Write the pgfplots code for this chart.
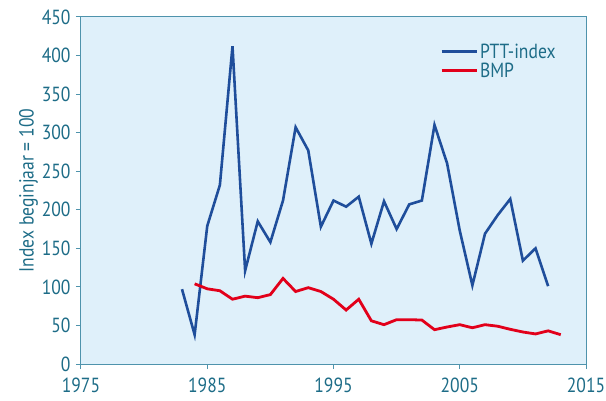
\documentclass[border=0pt]{standalone}
\usepackage{fontspec}
\setmainfont{PT Sans}[FakeStretch=0.86]
\usepackage{pgfplots}
\pgfplotsset{compat=1.18}
\definecolor{bgblue}{HTML}{DFF0FA}
\definecolor{axcol}{HTML}{4E93AC}
\definecolor{txtcol}{HTML}{1D6C87}
\definecolor{pttblue}{HTML}{1F4E9B}
\definecolor{bmpred}{HTML}{E2001A}
\begin{document}
\begin{tikzpicture}[x=1bp,y=1bp]
\useasboundingbox (-81,-36) rectangle (525,364);
\begin{axis}[
  scale only axis, width=505bp, height=347bp,
  at={(0,0)}, anchor=south west,
  xmin=1975, xmax=2015, ymin=0, ymax=450,
  xtick={1975,1985,...,2015}, ytick={0,50,...,450},
  tick pos=left, tick align=outside, major tick length=5bp,
  tick style={axcol, line width=1bp},
  axis line style={axcol, line width=1bp},
  axis background/.style={fill=bgblue},
  /pgf/number format/assume math mode=true,
  /pgf/number format/1000 sep={},
  tick label style={text=txtcol, font=\fontsize{20.5}{24}\selectfont},
  xticklabel style={yshift=-5bp},
  yticklabel style={xshift=-2bp},
  ylabel={Index beginjaar = 100},
  ylabel style={text=txtcol, font=\fontsize{20.5}{24}\selectfont, yshift=-3bp},
  legend style={draw=none, fill=none, at={(0.705,0.935)}, anchor=north west,
    font=\fontsize{20.5}{24}\selectfont, text=txtcol, row sep=-1bp},
  legend cell align=left,
  legend image code/.code={\draw[#1] (0bp,0bp) -- (35bp,0bp);},
]
\addplot[pttblue, line width=2.6bp] coordinates {
(1983,97) (1984,38) (1985,179) (1986,232) (1987,412) (1988,121) (1989,185)
(1990,158) (1991,212) (1992,307) (1993,277) (1994,178) (1995,212) (1996,204)
(1997,217) (1998,156) (1999,211) (2000,175) (2001,207) (2002,212) (2003,310)
(2004,260) (2005,173) (2006,102) (2007,169) (2008,193) (2009,214) (2010,134)
(2011,150) (2012,101)};
\addlegendentry{PTT-index}
\addplot[bmpred, line width=2.8bp] coordinates {
(1984,104) (1985,97.5) (1986,95) (1987,84) (1988,88) (1989,86) (1990,90)
(1991,111) (1992,94) (1993,99) (1994,94) (1995,84) (1996,70) (1997,84)
(1998,56) (1999,51) (2000,57.5) (2001,57.5) (2002,57) (2003,44.5) (2004,48)
(2005,51) (2006,47) (2007,51) (2008,49) (2009,45) (2010,41.5) (2011,39)
(2012,43) (2013,38)};
\addlegendentry{BMP}
\end{axis}
\end{tikzpicture}
\end{document}
